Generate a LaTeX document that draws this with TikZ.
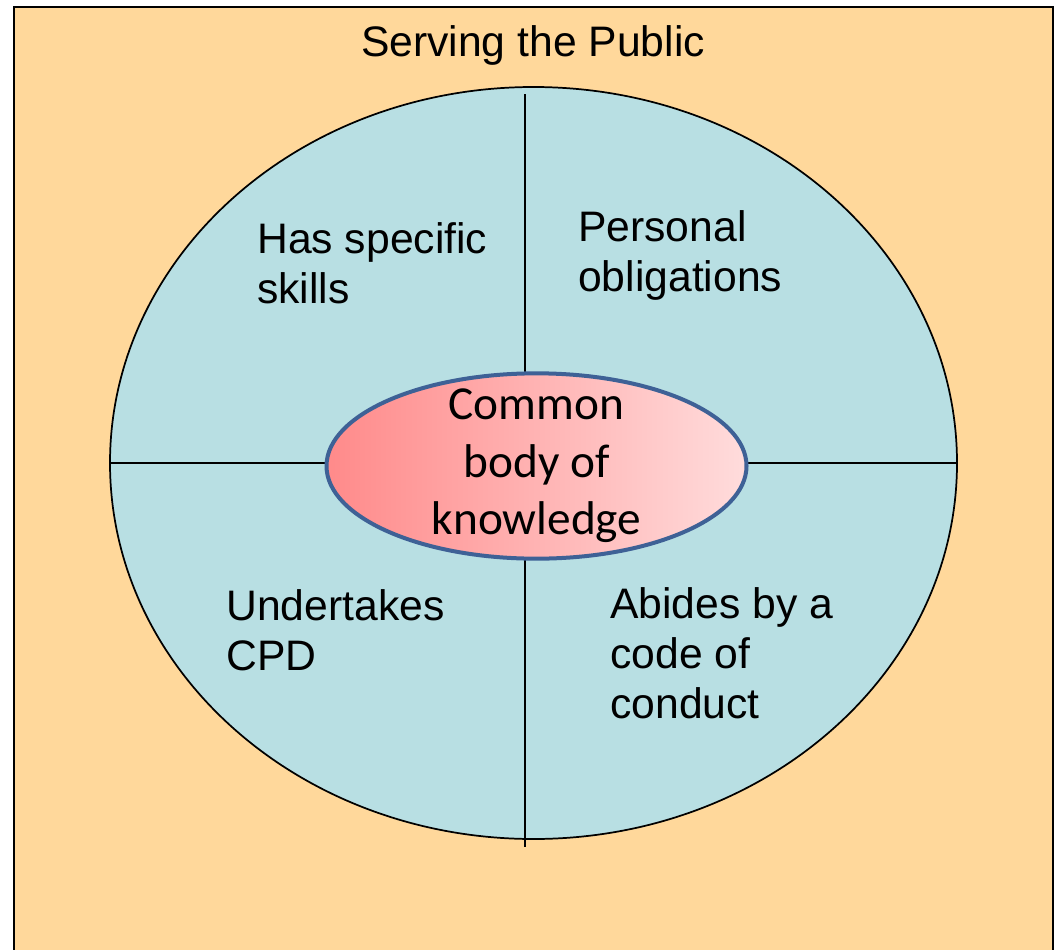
\documentclass[tikz,border=0pt]{standalone}
\usepackage{fontspec}
\setmainfont{Liberation Sans}
\newfontfamily\calibri{Carlito}
\usetikzlibrary{shapes.geometric}
\definecolor{fondpublic}{HTML}{FFD89B}
\definecolor{bleudisque}{HTML}{B8DFE3}
\definecolor{bordnoyau}{HTML}{3E6196}
\definecolor{rougegauche}{HTML}{FF8A8A}
\definecolor{rougedroite}{HTML}{FFDCDC}
\begin{document}
\begin{tikzpicture}[x=0.75pt, y=-0.75pt]
\tikzstyle{trait} = [line width=1.3pt, black]
\tikzstyle{quartier} = [anchor=north west, inner sep=0pt, align=left, font=\fontsize{32}{37.5}\selectfont]
\useasboundingbox (0,0) rectangle (1055,949);
\draw[trait, fill=fondpublic] (14,7) rectangle (1053,990);
\node[anchor=base, inner sep=0pt, font=\fontsize{32}{37.5}\selectfont] (titre) at (533,57) {Serving the Public};
\node[ellipse, draw, trait, fill=bleudisque, inner sep=0pt, minimum width=635.25pt, minimum height=564pt] (disque) at (533.5,463) {};
\coordinate (haut) at (525,94);
\coordinate (bas) at (525,847);
\draw[trait] (disque.west) -- (disque.east);
\draw[trait] (haut) -- (bas);
\node[ellipse, draw=bordnoyau, line width=3pt, left color=rougegauche, right color=rougedroite, inner sep=0pt, minimum width=315pt, minimum height=139pt] (noyau) at (536.5,466) {};
\node[align=center, inner sep=0pt, font=\calibri\fontsize{35.5}{43}\selectfont] (savoir) at (noyau.center) {Common\\body of\\knowledge};
\node[quartier] (competences) at (257,222) {Has specific\\skills};
\node[quartier] (obligations) at (578,210) {Personal\\obligations};
\node[quartier] (cpd) at (226,589) {Undertakes\\CPD};
\node[quartier] (code) at (610,587) {Abides by a\\code of\\conduct};
\end{tikzpicture}
\end{document}
